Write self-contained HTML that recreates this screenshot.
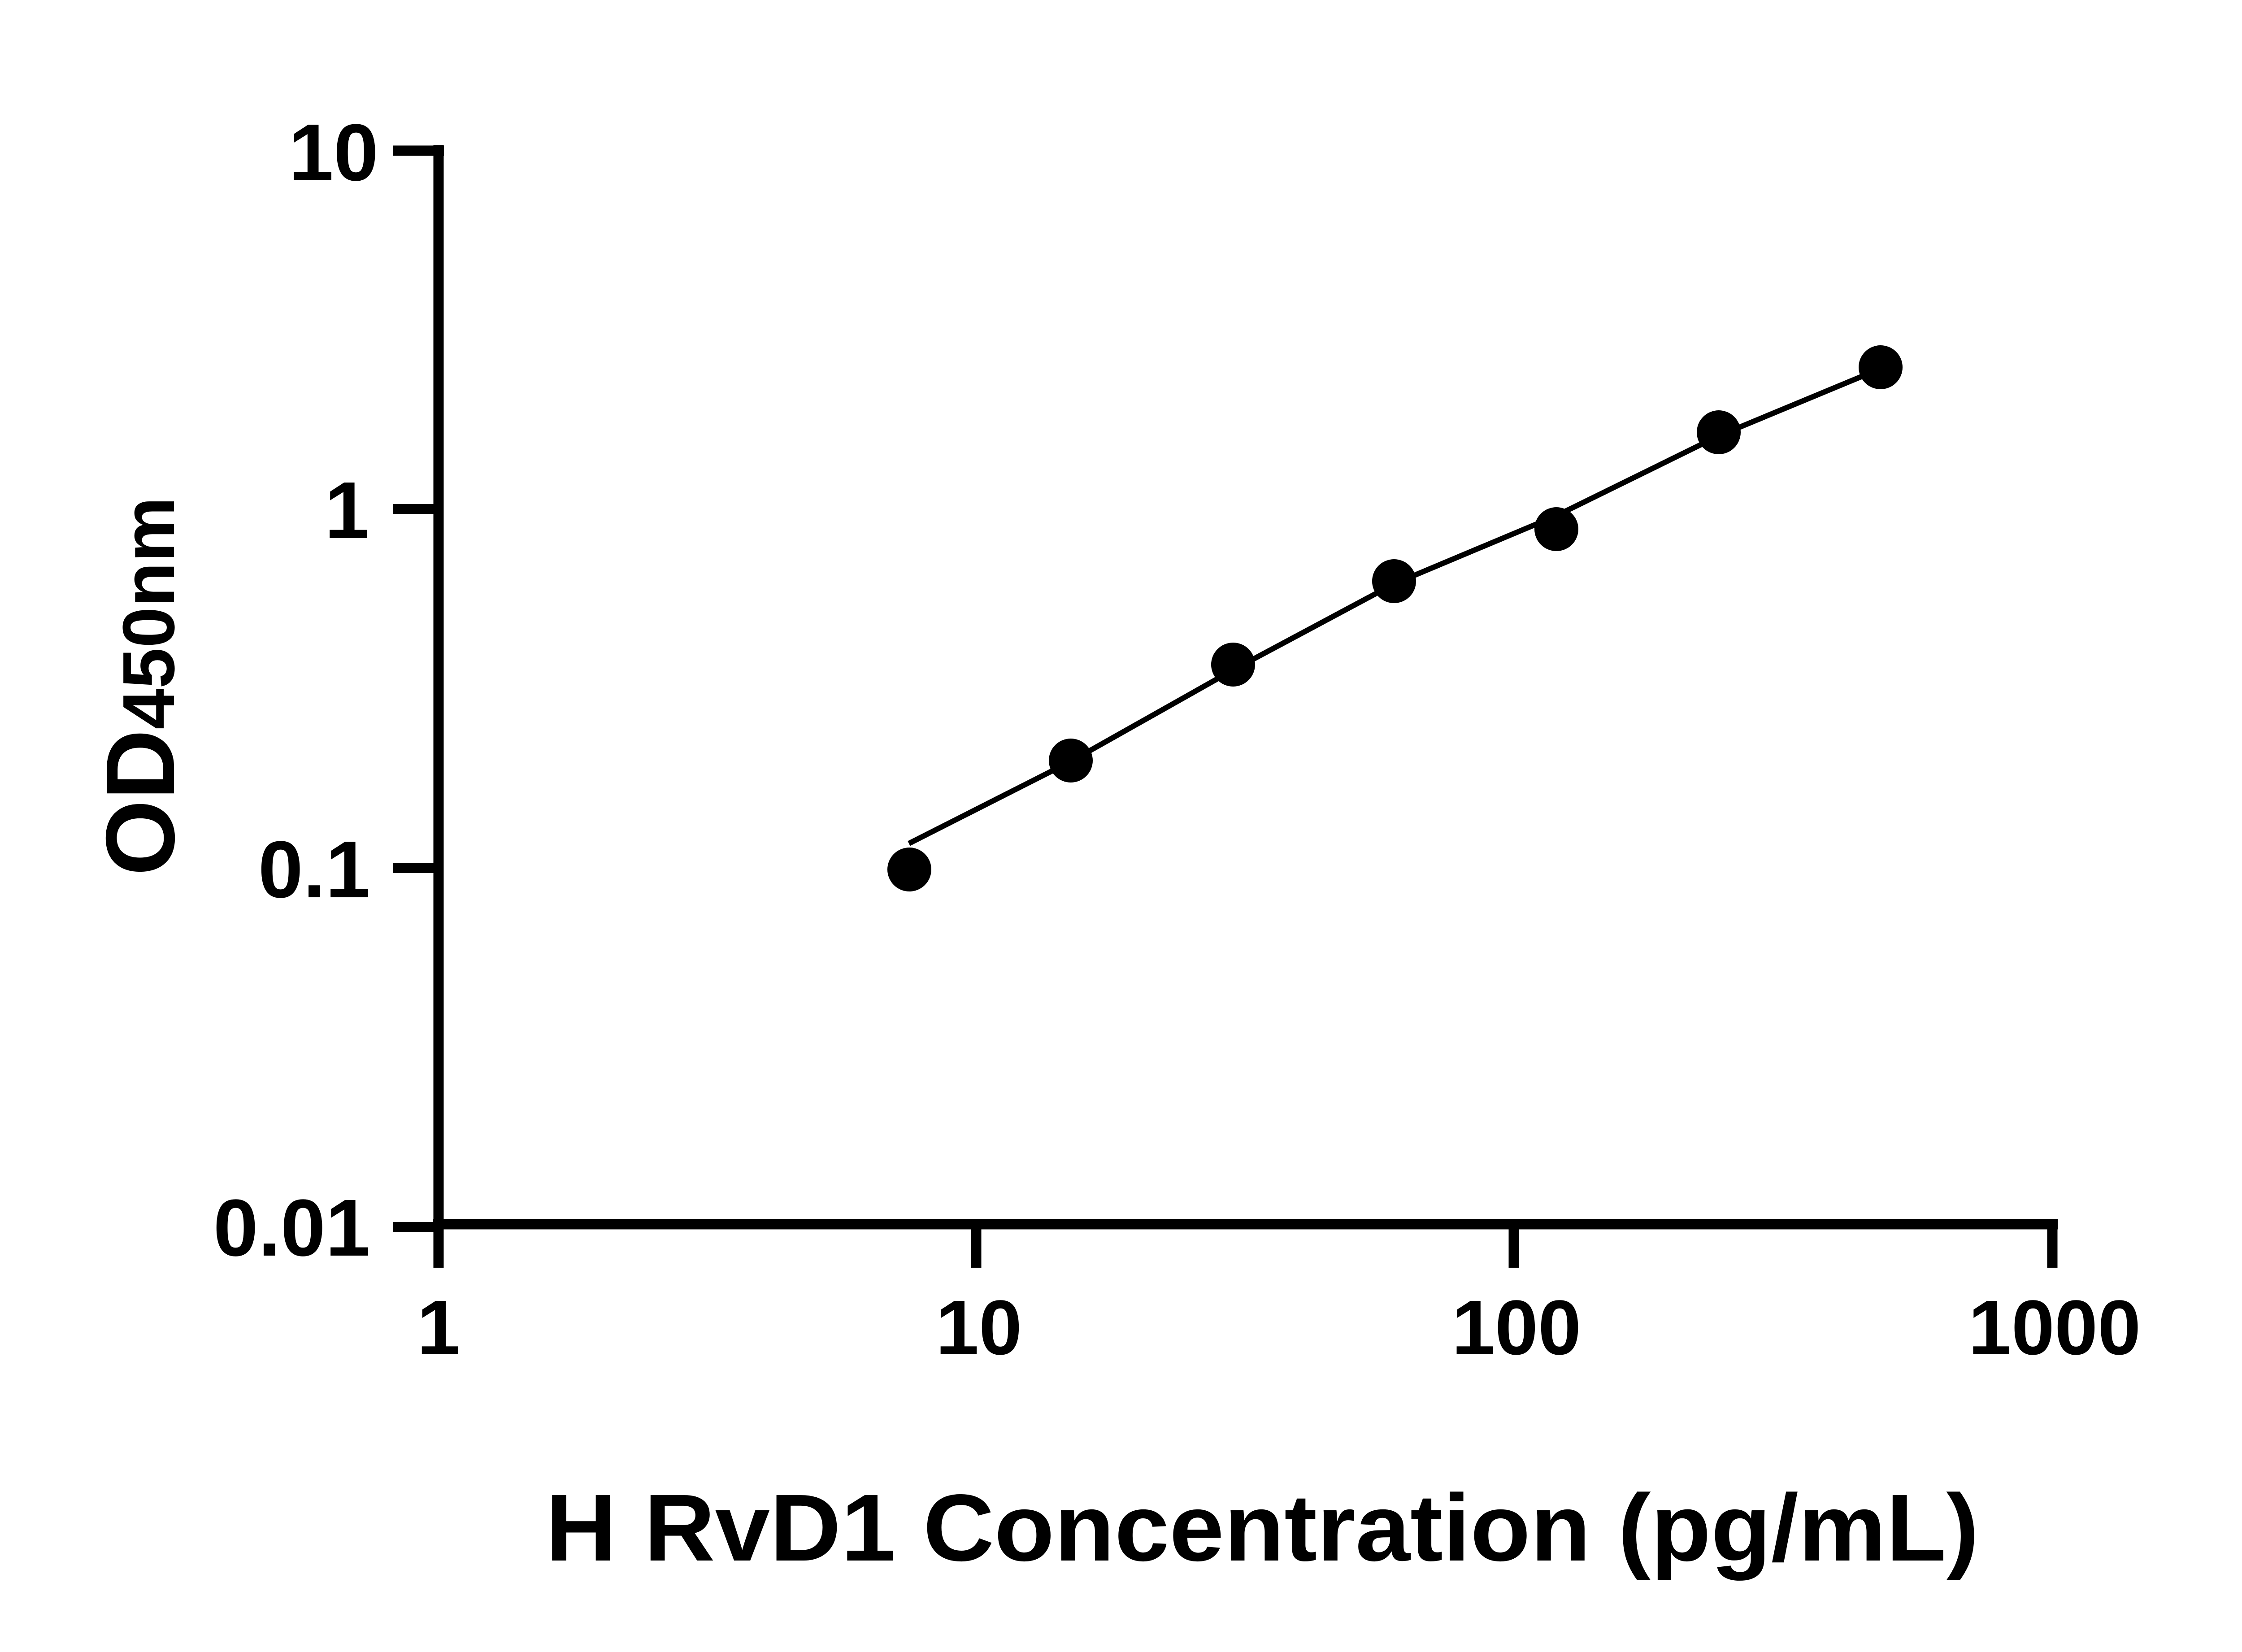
<!DOCTYPE html>
<html><head><meta charset="utf-8"><style>
html,body{margin:0;padding:0;background:#fff;}
svg{display:block;}
text{font-family:"Liberation Sans",Arial,sans-serif;font-weight:bold;fill:#000;}
</style></head><body>
<svg width="5130" height="3684" viewBox="0 0 5130 3684" xmlns="http://www.w3.org/2000/svg">
<rect width="5130" height="3684" fill="#fff"/>
<!-- axes -->
<line x1="978" y1="324" x2="978" y2="2827" stroke="#000" stroke-width="23"/>
<line x1="966" y1="2730" x2="4589" y2="2730" stroke="#000" stroke-width="23"/>
<!-- y ticks -->
<line x1="876" y1="336" x2="990" y2="336" stroke="#000" stroke-width="23"/>
<line x1="876" y1="1135" x2="978" y2="1135" stroke="#000" stroke-width="22"/>
<line x1="876" y1="1936" x2="978" y2="1936" stroke="#000" stroke-width="22"/>
<line x1="876" y1="2736" x2="978" y2="2736" stroke="#000" stroke-width="22"/>
<!-- x ticks -->
<line x1="978" y1="2730" x2="978" y2="2827" stroke="#000" stroke-width="23"/>
<line x1="2177" y1="2730" x2="2177" y2="2827" stroke="#000" stroke-width="23"/>
<line x1="3376" y1="2730" x2="3376" y2="2827" stroke="#000" stroke-width="23"/>
<line x1="4577" y1="2718" x2="4577" y2="2827" stroke="#000" stroke-width="23"/>
<!-- y labels -->
<text x="844" y="402" font-size="180" text-anchor="end">10</text>
<text x="824" y="1200" font-size="180" text-anchor="end">1</text>
<text x="826" y="2001" font-size="180" text-anchor="end">0.1</text>
<text x="826" y="2800" font-size="180" text-anchor="end">0.01</text>
<!-- x labels -->
<text x="978" y="3020" font-size="173" text-anchor="middle">1</text>
<text x="2183" y="3020" font-size="173" text-anchor="middle">10</text>
<text x="3382" y="3020" font-size="173" text-anchor="middle">100</text>
<text x="4582" y="3020" font-size="173" text-anchor="middle">1000</text>
<!-- curve -->
<polyline points="2027,1881 2388,1698 2750,1494 3109,1302 3471,1150 3833,972 4194,822" fill="none" stroke="#000" stroke-width="12" stroke-linejoin="round"/>
<!-- points -->
<g fill="#000">
<circle cx="2028" cy="1939" r="49"/>
<circle cx="2388" cy="1696" r="49"/>
<circle cx="2750" cy="1482" r="49"/>
<circle cx="3109" cy="1296" r="49"/>
<circle cx="3471" cy="1180" r="49"/>
<circle cx="3833" cy="964" r="49"/>
<circle cx="4194" cy="819" r="49"/>
</g>
<!-- axis titles -->
<text x="2815" y="3480" font-size="212" text-anchor="middle" textLength="3197" lengthAdjust="spacingAndGlyphs">H RvD1 Concentration (pg/mL)</text>
<text transform="translate(388,1953) rotate(-90)" font-size="218" textLength="845" lengthAdjust="spacingAndGlyphs">OD<tspan font-size="164">450nm</tspan></text>
</svg>
</body></html>
